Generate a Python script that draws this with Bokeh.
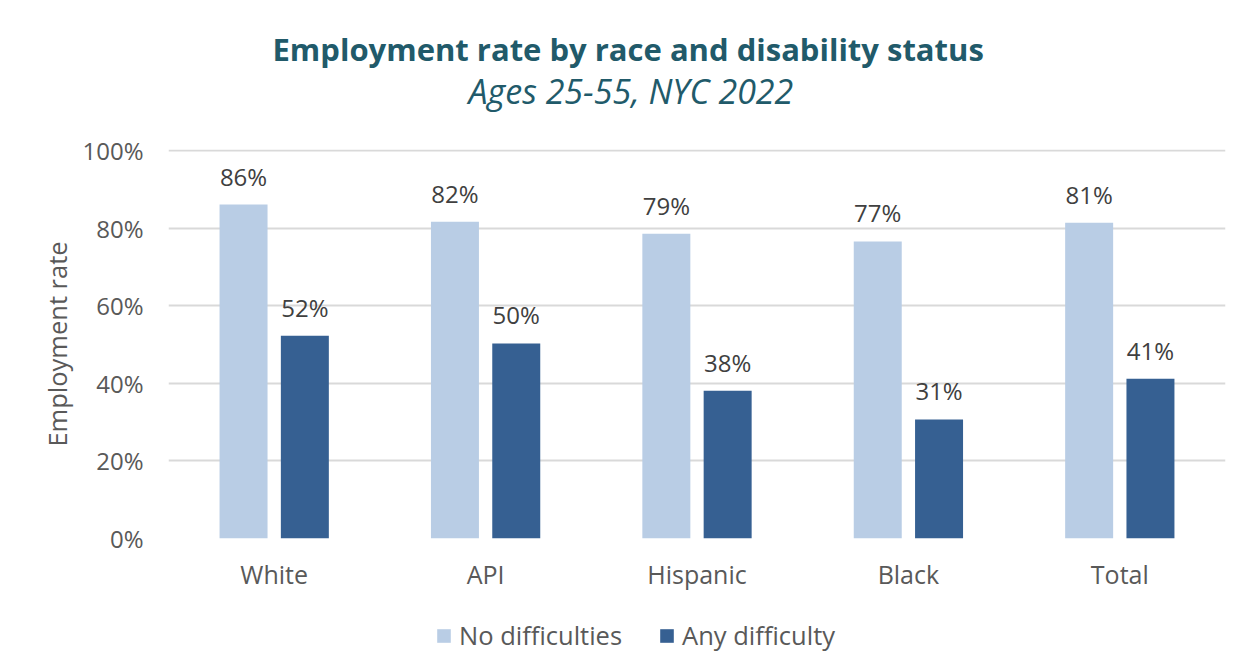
from bokeh.plotting import figure
from bokeh.layouts import column
from bokeh.models import (ColumnDataSource, FactorRange, Range1d, LabelSet, Title,
                          Legend, LegendItem, PrintfTickFormatter, FixedTicker)
from bokeh.transform import dodge
from bokeh.core.properties import value
from bokeh.embed import file_html
from bokeh.resources import INLINE

categories = ["White", "API", "Hispanic", "Black", "Total"]
no_difficulties = [86.1, 81.7, 78.6, 76.6, 81.4]
any_difficulty = [52.3, 50.3, 38.1, 30.7, 41.2]
y_ticks = [0, 20, 40, 60, 80, 100]
series_names = ["No difficulties", "Any difficulty"]

FONT = "Open Sans"
GRAY = "#595959"
LIGHT = "#B9CDE5"
DARK = "#366092"
TITLE_C = "#215A6A"

src = ColumnDataSource(dict(
    cat=categories,
    nod=no_difficulties,
    anyd=any_difficulty,
    nod_lbl=["{:.0f}%".format(v) for v in no_difficulties],
    anyd_lbl=["{:.0f}%".format(v) for v in any_difficulty],
))

p = figure(x_range=FactorRange(*categories, range_padding=0),
           y_range=Range1d(0, 100.3),
           frame_width=1057, frame_height=389,
           min_border_left=168, min_border_right=12,
           min_border_top=149, min_border_bottom=81,
           output_backend="svg", toolbar_location=None,
           background_fill_color="white", border_fill_color="white",
           outline_line_color=None)

r1 = p.vbar(x=dodge("cat", -0.145, range=p.x_range), top="nod", width=0.227,
            source=src, fill_color=LIGHT, line_color=None)
r2 = p.vbar(x=dodge("cat", 0.145, range=p.x_range), top="anyd", width=0.227,
            source=src, fill_color=DARK, line_color=None)

for col, lbl, off in (("nod", "nod_lbl", -0.145), ("anyd", "anyd_lbl", 0.145)):
    p.add_layout(LabelSet(x=dodge("cat", off, range=p.x_range), y=col, text=lbl,
                          source=src, text_align="center", text_baseline="alphabetic",
                          y_offset=19, text_font=value(FONT), text_font_size="24px",
                          text_color="#404040"))

# axes
p.yaxis.ticker = FixedTicker(ticks=y_ticks)
p.yaxis.formatter = PrintfTickFormatter(format="%d%%")
p.yaxis.axis_line_color = None
p.yaxis.major_tick_line_color = None
p.yaxis.minor_tick_line_color = None
p.yaxis.major_label_standoff = 19
p.yaxis.major_label_text_font = FONT
p.yaxis.major_label_text_font_size = "24px"
p.yaxis.major_label_text_color = GRAY
p.yaxis.axis_label = "Employment rate"
p.yaxis.axis_label_standoff = 5
p.yaxis.axis_label_text_font = FONT
p.yaxis.axis_label_text_font_size = "25.5px"
p.yaxis.axis_label_text_font_style = "normal"
p.yaxis.axis_label_text_color = GRAY

p.xaxis.axis_line_color = None
p.xaxis.major_tick_line_color = None
p.xaxis.minor_tick_line_color = None
p.xaxis.major_label_standoff = 12
p.xaxis.major_label_text_font = FONT
p.xaxis.major_label_text_font_size = "25px"
p.xaxis.major_label_text_color = GRAY

p.xgrid.grid_line_color = None
p.ygrid.grid_line_color = "#D9D9D9"
p.ygrid.grid_line_width = 2

# titles (first added sits closest to the frame); the first one is a spacer
p.add_layout(Title(text=" ", text_font_size="1px", standoff=33,
                   text_color="white"), "above")
p.add_layout(Title(text="Ages 25-55, NYC 2022", align="left", offset=300,
                   standoff=0, text_font=FONT, text_font_size="34px",
                   text_font_style="italic", text_color=TITLE_C), "above")
main_kw = dict(text="Employment rate by race and disability status",
               align="left", offset=104, text_font=FONT, text_font_size="31px",
               text_font_style="bold", text_color=TITLE_C)
try:
    main_title = Title(standoff=-8, **main_kw)
except ValueError:
    main_title = Title(standoff=0, **main_kw)
p.add_layout(main_title, "above")

# legend strip below the chart (its frame is aligned with the chart's frame)
leg = figure(width=1237, height=37, x_range=Range1d(0, 1), y_range=Range1d(0, 1),
             min_border_left=0, min_border_right=0, min_border_top=0, min_border_bottom=0,
             output_backend="svg", toolbar_location=None,
             background_fill_color="white", border_fill_color="white",
             outline_line_color=None)
leg.axis.visible = False
leg.grid.visible = False
# legend-only swatch renderers (zero-height, nothing drawn in the strip)
g1 = leg.vbar(x=[-5], top=[0], bottom=[0], width=0.1, fill_color=LIGHT, line_color=None)
g2 = leg.vbar(x=[-5], top=[0], bottom=[0], width=0.1, fill_color=DARK, line_color=None)
legend = Legend(items=[LegendItem(label=series_names[0], renderers=[g1]),
                       LegendItem(label=series_names[1], renderers=[g2])],
                orientation="horizontal", location=(267, 4),
                glyph_width=17, glyph_height=17, label_standoff=7, spacing=36,
                padding=0, margin=0, border_line_color=None,
                background_fill_alpha=0,
                label_text_font=FONT, label_text_font_size="25.5px",
                label_text_color=GRAY)
leg.add_layout(legend, "center")

layout = column(p, leg, spacing=0)
open("out.html", "w").write(file_html(layout, INLINE))
